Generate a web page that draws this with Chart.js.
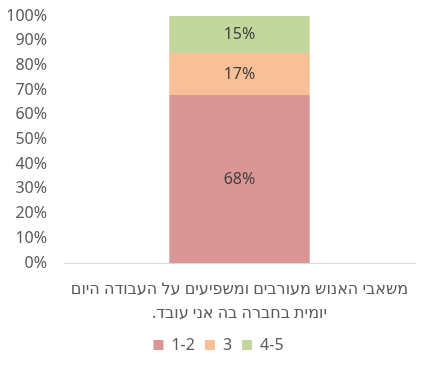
<!DOCTYPE html>
<html lang="he">
<head>
    <meta charset="UTF-8">
    <title>תרשים</title>
    <script src="https://cdn.jsdelivr.net/npm/chart.js"></script>
    <style>
        html, body { margin: 0; padding: 0; background: #fff; }
        #wrap { width: 424px; height: 366px; }
    </style>
</head>
<body>
<div id="wrap"><canvas id="chart"></canvas></div>
<script>
    // נתונים
    const categories = [["משאבי האנוש מעורבים ומשפיעים על העבודה היום", "יומית בחברה בה אני עובד.\u200F"]];
    const seriesNames = ["1-2", "3", "4-5"];
    const values12 = [68];
    const values3 = [17];
    const values45 = [15];
    const colors = ["#D99694", "#F9BF96", "#C3D69B"];

    const textColor = "#595959";
    const fontFamily = "'Noto Sans', 'DejaVu Sans', sans-serif";

    // תוויות על העמודות
    const barLabels = {
        id: "barLabels",
        afterDatasetsDraw(chart) {
            const ctx = chart.ctx;
            ctx.save();
            ctx.font = "16px " + fontFamily;
            ctx.fillStyle = "#404040";
            ctx.textAlign = "center";
            ctx.textBaseline = "middle";
            chart.data.datasets.forEach((ds, i) => {
                chart.getDatasetMeta(i).data.forEach((bar, j) => {
                    const y = (bar.y + bar.base) / 2;
                    ctx.fillText(ds.data[j] + "%", bar.x, y);
                });
            });
            ctx.restore();
        }
    };

    // מקרא קצת ימינה, כמו במקור
    const shiftLegend = {
        id: "shiftLegend",
        afterLayout(chart) {
            if (chart.legend) {
                chart.legend.left += 8;
                chart.legend.right += 8;
            }
        }
    };

    new Chart(document.getElementById("chart"), {
        type: "bar",
        data: {
            labels: categories,
            datasets: [
                { label: seriesNames[0], data: values12, backgroundColor: colors[0] },
                { label: seriesNames[1], data: values3, backgroundColor: colors[1] },
                { label: seriesNames[2], data: values45, backgroundColor: colors[2] }
            ]
        },
        options: {
            responsive: true,
            maintainAspectRatio: false,
            animation: false,
            barPercentage: 0.4,
            categoryPercentage: 1,
            layout: { padding: { top: 16, right: 9, left: 6, bottom: 3 } },
            scales: {
                x: {
                    stacked: true,
                    grid: { display: false, drawTicks: false },
                    border: { color: "#D9D9D9" },
                    ticks: {
                        color: textColor,
                        font: { family: fontFamily, size: 16, lineHeight: 1.5 },
                        padding: 14,
                        maxRotation: 0
                    },
                    // התווית הארוכה לא צריכה לכווץ את אזור השרטוט
                    afterFit: scale => {
                        scale.paddingLeft = 0;
                        scale.paddingRight = 0;
                        scale.height = 64;
                    }
                },
                y: {
                    stacked: true,
                    min: 0,
                    max: 100,
                    grid: { display: false, drawTicks: false },
                    border: { display: false },
                    ticks: {
                        stepSize: 10,
                        color: textColor,
                        font: { family: fontFamily, size: 16 },
                        padding: 17,
                        callback: v => v + "%"
                    },
                    afterFit: scale => {
                        scale.width = 58;
                        scale.paddingTop = 0;
                        scale.paddingBottom = 0;
                    }
                }
            },
            plugins: {
                legend: {
                    position: "bottom",
                    labels: {
                        color: textColor,
                        font: { family: fontFamily, size: 16 },
                        boxWidth: 10,
                        boxHeight: 10,
                        padding: 10
                    }
                },
                tooltip: { enabled: false }
            }
        },
        plugins: [barLabels, shiftLegend]
    });
</script>
</body>
</html>
